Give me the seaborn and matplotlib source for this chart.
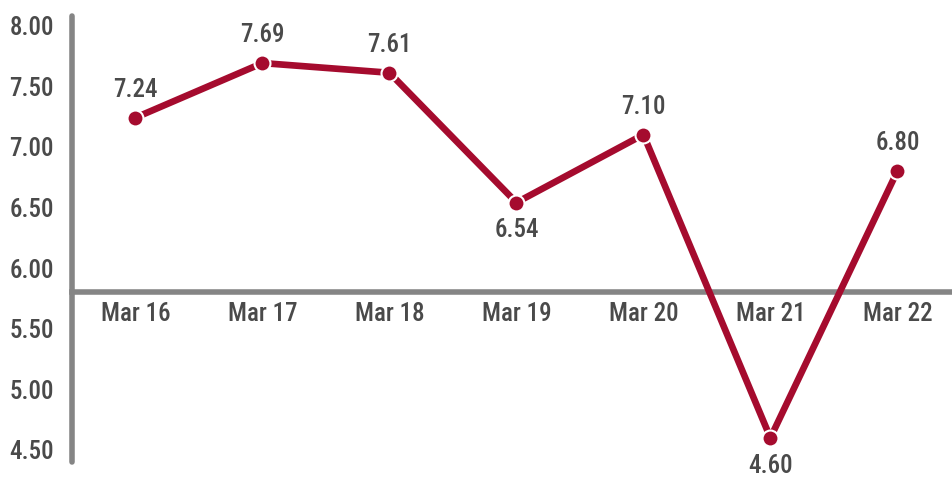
import matplotlib
matplotlib.use("Agg")
import matplotlib.pyplot as plt
import seaborn as sns
import pandas as pd

dates = ["Mar 16", "Mar 17", "Mar 18", "Mar 19", "Mar 20", "Mar 21", "Mar 22"]
values = [7.24, 7.69, 7.61, 6.54, 7.10, 4.60, 6.80]
label_below = [False, False, False, True, False, True, False]
yticks = [4.50, 5.00, 5.50, 6.00, 6.50, 7.00, 7.50, 8.00]

sns.set_theme(style="white")
plt.rcParams["font.family"] = ["Roboto Condensed", "DejaVu Sans"]
plt.rcParams["font.weight"] = 500

LINE = "#A50B2E"
GRAY = "#858585"
TEXT = "#4A4A4A"
FS = 18

df = pd.DataFrame({"idx": range(len(dates)), "value": values})

fig = plt.figure(figsize=(9.52, 4.78), dpi=100)
ax = fig.add_axes([72 / 952, 16 / 478, 1 - 72 / 952, (462 - 16) / 478])

sns.lineplot(data=df, x="idx", y="value", ax=ax, color=LINE, linewidth=4.8,
             marker="o", markersize=11.5, markeredgecolor="white",
             markeredgewidth=1.5, zorder=5)

for i, (v, below) in enumerate(zip(values, label_below)):
    ax.annotate(f"{v:.2f}", (i, v), xytext=(0, -20 if below else 20),
                textcoords="offset points", ha="center", va="center",
                fontsize=FS, color=TEXT, zorder=6)

ax.set_xlim(-0.5, 6.43)
ax.set_ylim(4.401, 8.078)
ax.set_yticks(yticks)
ax.set_yticklabels([f"{t:.2f}" for t in yticks])
ax.set_xticks(range(len(dates)))
ax.set_xticklabels(dates)
ax.tick_params(axis="y", length=0, pad=13, labelsize=FS, labelcolor=TEXT)
ax.tick_params(axis="x", length=0, pad=7, labelsize=FS, labelcolor=TEXT)
ax.set_xlabel("")
ax.set_ylabel("")

for s in ["top", "right"]:
    ax.spines[s].set_visible(False)
ax.spines["left"].set_color(GRAY)
ax.spines["left"].set_linewidth(4)
ax.spines["left"].set_capstyle("round")
ax.spines["bottom"].set_position(("data", 5.8))
ax.spines["bottom"].set_color(GRAY)
ax.spines["bottom"].set_linewidth(4)
ax.grid(False)

fig.savefig("out.png", dpi=100)
